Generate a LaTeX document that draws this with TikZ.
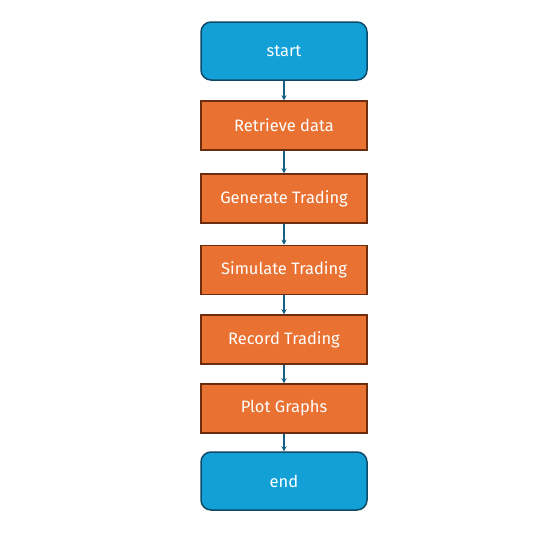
\documentclass[tikz,border=0pt]{standalone}
\usepackage{fontspec}
\setmainfont{Fira Sans}
\usetikzlibrary{arrows.meta}
\definecolor{bluefill}{HTML}{12A0D7}
\definecolor{blueline}{HTML}{0E4A66}
\definecolor{orangefill}{HTML}{E97132}
\definecolor{orangeline}{HTML}{6B2D0E}
\definecolor{arrowcol}{HTML}{156082}
\tikzset{
  x=1pt, y=-1pt,
  base/.style={minimum width=166pt, text=white, font=\fontsize{16.5}{19}\selectfont, inner sep=0pt},
  terminal/.style={base, draw=blueline, fill=bluefill, line width=1.5pt, rounded corners=10pt, minimum height=58pt},
  process/.style={base, draw=orangeline, fill=orangefill, line width=1.5pt, minimum height=49pt},
  conn/.style={draw=arrowcol, line width=1.5pt, -{Stealth[length=5pt,width=5pt]}}
}
\begin{document}
\begin{tikzpicture}
\useasboundingbox (0,0) rectangle (552,539);
\node[terminal] (start) at (284,51) {start};
\node[process] (retrieve) at (284,125.5) {Retrieve data};
\node[process] (generate) at (284,198.5) {Generate Trading};
\node[process] (simulate) at (284,270) {Simulate Trading};
\node[process] (record) at (284,339.5) {Record Trading};
\node[process] (plot) at (284,408.5) {Plot Graphs};
\node[terminal] (end) at (284,481) {end};
\draw[conn] (start) -- (retrieve);
\draw[conn] (retrieve) -- (generate);
\draw[conn] (generate) -- (simulate);
\draw[conn] (simulate) -- (record);
\draw[conn] (record) -- (plot);
\draw[conn] (plot) -- (end);
\end{tikzpicture}
\end{document}
